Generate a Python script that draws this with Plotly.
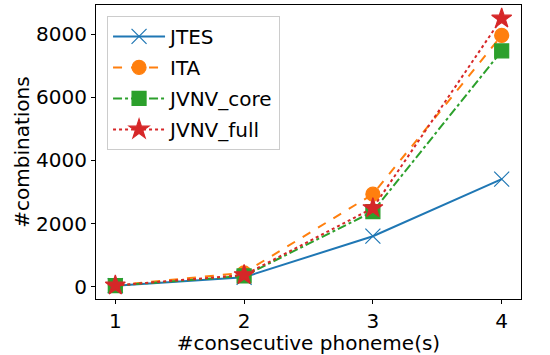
import plotly.graph_objects as go

x_vals = [1, 2, 3, 4]
series_names = ["JTES", "ITA", "JVNV_core", "JVNV_full"]
jtes = [30, 300, 1600, 3410]
ita = [45, 440, 2930, 7960]
jvnv_core = [35, 340, 2380, 7470]
jvnv_full = [40, 370, 2490, 8500]

colors = ["#1f77b4", "#ff7f0e", "#2ca02c", "#d62728"]
dashes = ["solid", "dash", "dashdot", "dot"]
symbols = ["x-thin", "circle", "square", "star"]
sizes = [15, 14, 14, 15]

fig = go.Figure()
for name, ys, c, d, s, sz in zip(series_names, [jtes, ita, jvnv_core, jvnv_full], colors, dashes, symbols, sizes):
    fig.add_trace(go.Scatter(
        x=x_vals, y=ys, name=name, mode="lines+markers", legendgroup=name,
        line=dict(color=c, width=2, dash=d),
        marker=dict(symbol=s, size=sz, color=c, line=dict(color=c, width=1.2)),
    ))

fig.update_layout(
    width=550, height=355,
    margin=dict(l=96, r=29, t=5, b=56, autoexpand=False),
    paper_bgcolor="white", plot_bgcolor="white",
    font=dict(family="DejaVu Sans", size=20, color="black"),
    showlegend=True,
    legend=dict(
        x=0.026, y=0.963, xanchor="left", yanchor="top",
        bgcolor="rgba(255,255,255,0.8)", bordercolor="#cccccc", borderwidth=1,
        font=dict(size=20), itemwidth=52, tracegroupgap=2,
    ),
)
fig.update_xaxes(
    range=[0.85, 4.15], tickvals=x_vals, ticktext=[str(v) for v in x_vals],
    showgrid=False, zeroline=False, showline=True, linecolor="black", linewidth=1, mirror=True,
    ticks="outside", ticklen=4, tickcolor="black", automargin=False,
    title=dict(text="#consecutive phoneme(s)", font=dict(size=20), standoff=2),
)
fig.update_yaxes(
    range=[-390, 8925], tickvals=[0, 2000, 4000, 6000, 8000],
    showgrid=False, zeroline=False, showline=True, linecolor="black", linewidth=1, mirror=True,
    ticks="outside", ticklen=4, tickcolor="black", automargin=False,
    title=dict(text="#combinations", font=dict(size=20), standoff=1),
)

fig.write_html(
    "out.html",
    config={"displayModeBar": False},
    post_script="document.body.style.margin='0';document.body.style.padding='0';",
)
